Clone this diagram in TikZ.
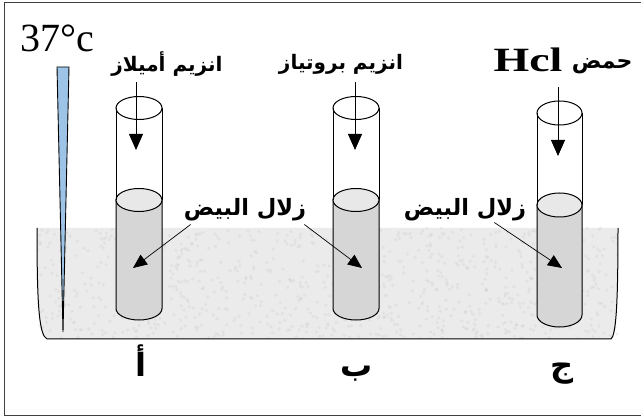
\documentclass[tikz,border=0pt]{standalone}
\usepackage{fontspec}
\setmainfont{Liberation Serif}
\newfontfamily\arabicfont[Script=Arabic]{DejaVu Sans}
\TeXXeTstate=1
\usetikzlibrary{arrows.meta,positioning}

\definecolor{bathgray}{HTML}{EBEBEB}
\definecolor{liquidgray}{HTML}{D6D6D6}
\definecolor{surfacegray}{HTML}{E8E8E8}
\definecolor{thermoblue}{HTML}{9DC3E6}

\tikzset{
  wall/.style={black, line width=1pt},
  liquid/.style={wall, fill=liquidgray},
  surface/.style={wall, fill=surfacegray},
  pour/.style={black, line width=0.8pt, -{Triangle[length=16pt,width=14pt]}},
  pointer/.style={black, line width=0.7pt, -{Triangle[length=14pt,width=12pt]}},
  arlabel/.style={font=\arabicfont\bfseries\fontsize{20}{22}\selectfont, inner sep=1pt},
  egglabel/.style={font=\arabicfont\bfseries\fontsize{22.5}{24}\selectfont, inner sep=1pt},
  letter/.style={font=\arabicfont\bfseries\fontsize{32}{34}\selectfont, inner sep=0pt, anchor=base}
}

\begin{document}
\begin{tikzpicture}[x=1pt,y=1pt]
    \useasboundingbox (0,0) rectangle (641,-417);
    % frame (open on the right)
    \draw [black!75, line width=1pt] (641,-3) -- (4,-3) -- (4,-415) -- (641,-415);
    % water bath
    \fill [bathgray] (37,-228) .. controls (37,-305) and (39,-335) .. (47,-339)
        -- (611,-339) .. controls (616,-335) and (618,-305) .. (618,-228) -- cycle;
    \begin{scope}
    \clip (37,-228) rectangle (618,-339);
    \pgfmathsetseed{17}
    \foreach \i in {1,...,900} {
        \pgfmathsetmacro\sx{37+581*rnd}
        \pgfmathsetmacro\sy{-228-111*rnd}
        \fill [gray!45, opacity=0.25] (\sx,\sy) circle (1.8);
    }
    \end{scope}
    \draw [wall] (37,-228) .. controls (37,-305) and (39,-335) .. (47,-339)
        -- (611,-339) .. controls (616,-335) and (618,-305) .. (618,-228);
    % thermometer
    \filldraw [fill=thermoblue, draw=black, line width=0.9pt] (57,-67) -- (69,-67) -- (63,-332) -- cycle;
    \node (temp) at (57,-38) {\fontsize{40}{42}\selectfont 37°c};
    % tube a
    \filldraw [liquid] (116,-200) -- (116,-308.5) arc [start angle=180, end angle=360, x radius=23, y radius=11.5] -- (162,-200) -- cycle;
    \filldraw [surface] (139,-200) ellipse [x radius=23, y radius=11.5];
    \draw [wall] (116,-108) -- (116,-200);
    \draw [wall] (162,-108) -- (162,-200);
    \draw [wall] (139,-108) ellipse [x radius=23, y radius=11.5];
    % tube b
    \filldraw [liquid] (333,-200) -- (333,-308.5) arc [start angle=180, end angle=360, x radius=23, y radius=11.5] -- (379,-200) -- cycle;
    \filldraw [surface] (356,-200) ellipse [x radius=23, y radius=11.5];
    \draw [wall] (333,-108) -- (333,-200);
    \draw [wall] (379,-108) -- (379,-200);
    \draw [wall] (356,-108) ellipse [x radius=23, y radius=11.5];
    % tube c
    \filldraw [liquid] (537,-205) -- (537,-315) arc [start angle=180, end angle=360, x radius=22.5, y radius=12] -- (582,-205) -- cycle;
    \filldraw [surface] (559.5,-205) ellipse [x radius=22.5, y radius=12];
    \draw [wall] (537,-113) -- (537,-205);
    \draw [wall] (582,-113) -- (582,-205);
    \draw [wall] (559.5,-113) ellipse [x radius=22.5, y radius=12];
    % what is poured into each tube
    \node [arlabel] (enzA) at (167,-64) {\beginR انزيم أميلاز\endR};
    \node [arlabel] (enzB) at (341,-64) {\beginR انزيم بروتياز\endR};
    \node [inner sep=1pt] (hcl) at (528,-60) {\fontsize{34}{36}\selectfont\bfseries\scalebox{1.35}[1]{Hcl}};
    \node [arlabel, font=\arabicfont\bfseries\fontsize{22}{24}\selectfont, right=7pt of hcl, yshift=-6pt] (acid) {\beginR حمض\endR};
    \coordinate (inA) at (136,-82);
    \coordinate (inB) at (355,-82);
    \coordinate (inC) at (558,-87);
    \coordinate (dropA) at (136,-150);
    \coordinate (dropB) at (355,-150);
    \coordinate (dropC) at (558,-156);
    \draw [pour] (inA) -- (dropA);
    \draw [pour] (inB) -- (dropB);
    \draw [pour] (inC) -- (dropC);
    % egg white labels
    \node [egglabel] (eggA) at (245,-210) {\beginR زلال البيض\endR};
    \node [egglabel] (eggB) at (465,-210) {\beginR زلال البيض\endR};
    \coordinate (eggInA) at (133,-268);
    \coordinate (eggInB) at (362,-268);
    \coordinate (eggInC) at (562,-268);
    \draw [pointer] ([shift={(8,-2)}]eggA.south west) -- (eggInA);
    \draw [pointer] ([shift={(-3,-2)}]eggA.south east) -- (eggInB);
    \draw [pointer] ([shift={(-33,0)}]eggB.south east) -- (eggInC);
    % tube letters
    \node [letter] (letA) at (141,-377) {\beginR أ\endR};
    \node [letter] (letB) at (357,-377) {\beginR ب\endR};
    \node [letter] (letC) at (562,-377) {\beginR ج\endR};
\end{tikzpicture}
\end{document}
